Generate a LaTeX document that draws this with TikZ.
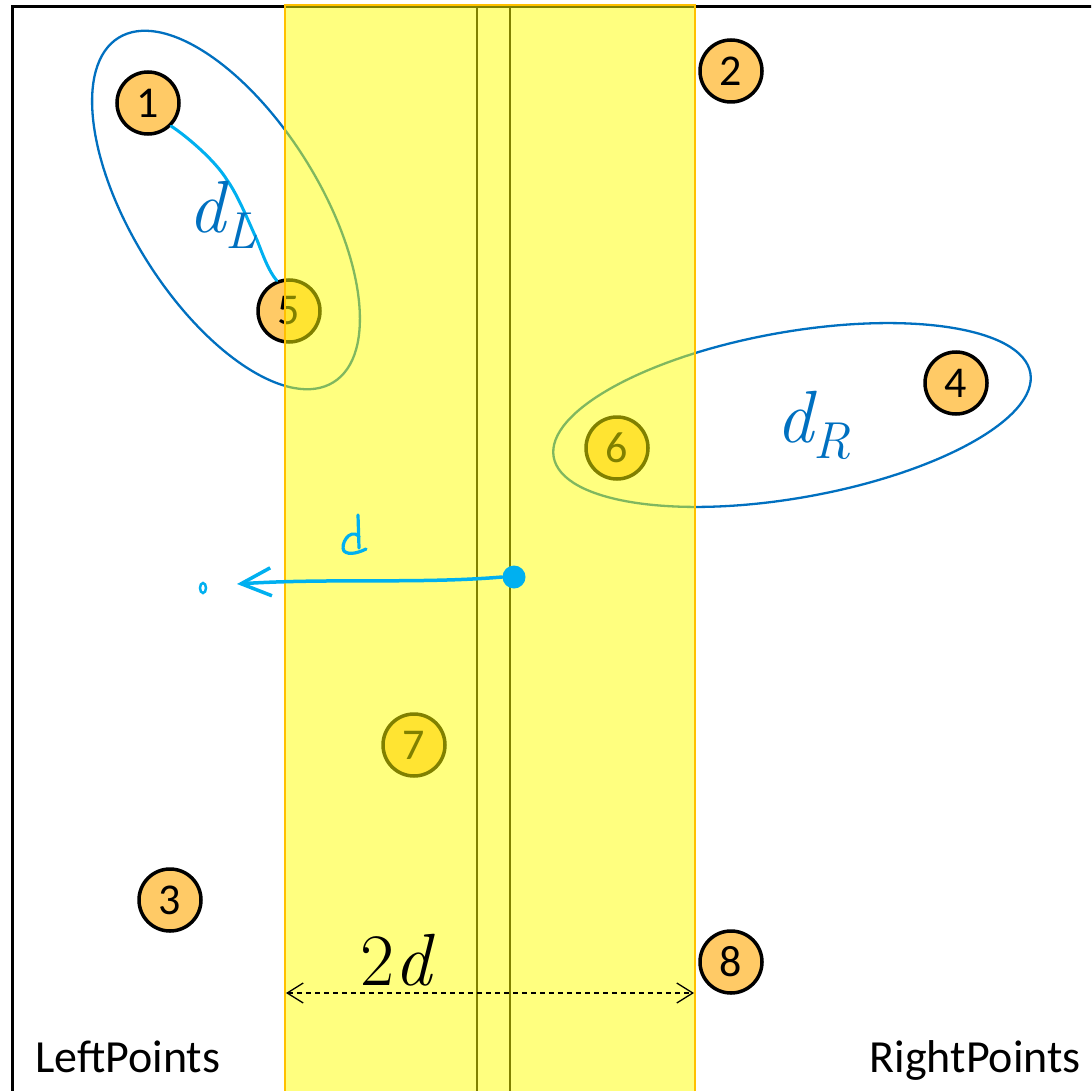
\documentclass[tikz,border=0pt]{standalone}
\usepackage{fontspec}
\setmainfont{Carlito}
\newfontfamily\lmrom{Latin Modern Roman}
\usetikzlibrary{arrows.meta}
\definecolor{ptfill}{HTML}{FFCA66}
\definecolor{ellblue}{HTML}{0070C0}
\definecolor{penblue}{HTML}{00B0F0}
\definecolor{stripedge}{HTML}{FFC000}
\definecolor{stripfill}{HTML}{FFFF00}
\newcommand{\bigit}[1]{{\fontsize{74}{80}\selectfont\lmrom\itshape #1}}
\newcommand{\bigup}[1]{{\fontsize{74}{80}\selectfont\lmrom #1}}
\newcommand{\subit}[1]{\raisebox{-16pt}{\fontsize{52}{56}\selectfont\lmrom\itshape #1}}
\tikzset{
  pt/.style={circle, draw=black, line width=3.5pt, fill=ptfill, minimum size=62pt, inner sep=0pt, font=\fontsize{44}{48}\selectfont},
  ell/.style={draw=ellblue, line width=2.3pt},
  pen/.style={draw=penblue, line width=3.5pt, line cap=round, line join=round},
  caption/.style={font=\fontsize{46}{50}\selectfont, inner sep=0pt},
  mathlbl/.style={inner sep=0pt}
}
\begin{document}
\begin{tikzpicture}[x=1pt,y=-1pt]
\clip (0,0) rectangle (1091,1091);
\fill[white] (0,0) rectangle (1091,1091);
% frame and middle lines
\draw[line width=3.5pt] (12.5,6.5) rectangle (1110,1110);
\draw[line width=2.5pt] (477,7) -- (477,1100);
\draw[line width=2.5pt] (510,7) -- (510,1100);
% ellipses
\draw[ell, rotate around={-58:(226,210)}] (226,210) ellipse [x radius=203, y radius=94];
\draw[ell, rotate around={10:(792,415)}] (792,415) ellipse [x radius=242, y radius=83];
% points
\node[pt] (c1) at (148,103) {1};
\node[pt] (c2) at (731,71) {2};
\node[pt] (c3) at (170,900) {3};
\node[pt] (c4) at (956,383) {4};
\node[pt] (c5) at (289,311) {5};
\node[pt] (c6) at (617,448) {6};
\node[pt] (c7) at (414,745) {7};
\node[pt] (c8) at (731,962) {8};
% hand-drawn link 1 -> 5
\draw[pen, line width=3pt] (c1.-45) .. controls (185,135) and (215,160) .. (227,180)
  .. controls (238,195) and (250,225) .. (257,240) .. controls (263,255) and (268,270) .. (c5.112);
% strip
\fill[stripfill, opacity=0.5] (285,5) rectangle (695,1100);
\draw[stripedge, line width=2pt] (285,1100) -- (285,5) -- (695,5) -- (695,1100);
% labels
\node[mathlbl, text=ellblue, anchor=base west] (dL) at (188,233) {\bigit{d}\subit{L}};
\node[mathlbl, text=ellblue, anchor=base west] (dR) at (776,442) {\bigit{d}\subit{R}};
% pen arrow
\node[circle, fill=penblue, minimum width=21pt, minimum height=23pt, inner sep=0pt] (dot) at (514,577) {};
\coordinate (tip) at (237,584);
\draw[pen, -{Straight Barb[length=30pt,width=28pt,line width=3.5pt]}] (dot.west) .. controls (420,584) and (330,578) .. (tip);
\draw[penblue, line width=2.5pt] (203,588) ellipse [x radius=3, y radius=5];
\draw[pen, line width=3.2pt] (358,515) -- (359,548);
\draw[pen, line width=3.2pt] (359,536) .. controls (349,528) and (340,545) .. (344,551) .. controls (349,556) and (360,552) .. (366,549);
% 2d dimension
\coordinate (wl) at (286,993);
\coordinate (wr) at (694,993);
\draw[line width=1.3pt, dash pattern=on 5pt off 4pt, {Straight Barb[length=16pt,width=20pt,line width=1.3pt]}-{Straight Barb[length=16pt,width=20pt,line width=1.3pt]}] (wl) -- (wr);
\node[mathlbl, anchor=base west] (twod) at (360,985) {\bigup{2}\bigit{d}};
% captions
\node[caption, anchor=base west] (lp) at (35,1072) {LeftPoints};
\node[caption, anchor=base east] (rp) at (1081,1072) {RightPoints};
\end{tikzpicture}
\end{document}
